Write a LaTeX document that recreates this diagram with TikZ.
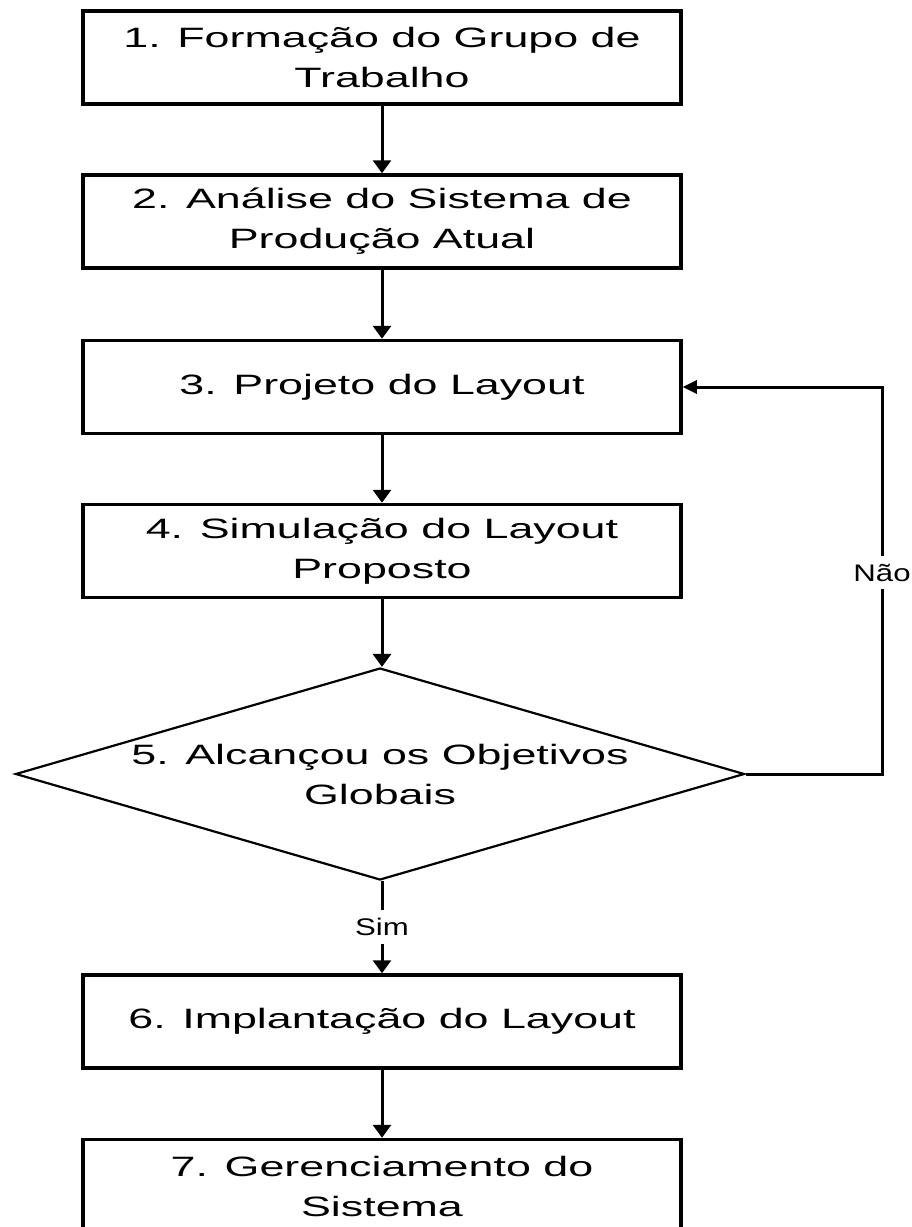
\documentclass[tikz,border=0pt]{standalone}
\usepackage{fontspec}
\setmainfont{Liberation Sans}[FakeStretch=1.6]
\newfontfamily\tagfont{Liberation Sans}[FakeStretch=1.3]
\usetikzlibrary{shapes.geometric,arrows.meta}

\begin{document}
\begin{tikzpicture}[x=1pt,y=-1pt,
  stepbox/.style={draw, line width=3.5pt, minimum width=598pt, minimum height=93pt,
    inner sep=0pt, align=center, font=\fontsize{28}{40}\selectfont},
  decision/.style={draw, diamond, aspect=3.44, line width=2.2pt, minimum width=729pt,
    minimum height=212pt, inner sep=0pt, align=center, font=\fontsize{28}{40}\selectfont},
  flow/.style={line width=3pt, -{Triangle[width=18pt,length=13pt]}},
  back/.style={line width=3pt, -{Triangle[width=13pt,length=14pt]}},
  tag/.style={fill=white, inner xsep=1pt, inner ysep=8pt, font=\tagfont\fontsize{24}{28}\selectfont}]

\useasboundingbox[fill=white] (0,0) rectangle (912,1227);

% process steps
\node[stepbox] (b1) at (382,57.5)  {1. Formação do Grupo de\\Trabalho};
\node[stepbox] (b2) at (382,221.5) {2. Análise do Sistema de\\Produção Atual};
\node[stepbox] (b3) at (382,387)   {3. Projeto do Layout};
\node[stepbox] (b4) at (382,551)   {4. Simulação do Layout\\Proposto};
\node[decision] (d5) at (380,774)  {5. Alcançou os Objetivos\\Globais};
\node[stepbox] (b6) at (382,1021.5) {6. Implantação do Layout};
\node[stepbox] (b7) at (382,1186)  {7. Gerenciamento do\\Sistema};

% main flow
\draw[flow] (b1.south) -- (b2.north);
\draw[flow] (b2.south) -- (b3.north);
\draw[flow] (b3.south) -- (b4.north);
\draw[flow] (b4.south) -- ([xshift=2pt]d5.north);
\draw[flow] ([xshift=2pt]d5.south) -- node[tag] (sim) {Sim} (b6.north);
\draw[flow] (b6.south) -- (b7.north);

% feedback loop
\coordinate (c1) at (882,774);
\coordinate (c2) at (882,387);
\draw[back] (d5.east) -- (c1) -- node[tag, pos=0.52] (nao) {Não} (c2) -- (b3.east);
\end{tikzpicture}
\end{document}
